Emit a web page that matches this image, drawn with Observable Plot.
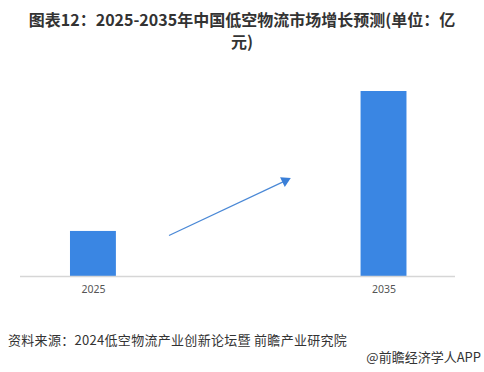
<!DOCTYPE html>
<html>
<head>
<meta charset="utf-8">
<script src="https://cdn.jsdelivr.net/npm/d3@7"></script>
<script src="https://cdn.jsdelivr.net/npm/@observablehq/plot@0.6"></script>
<style>
  body { margin: 0; background: #fff; font-family: "Noto Sans CJK SC", "Noto Sans", sans-serif; width: 484px; height: 372px; overflow: hidden; }
  #title { padding-top: 8px; height: 50px; box-sizing: border-box; text-align: center; font-weight: bold; font-size: 16px; line-height: 22px; color: #333; }
  #chart { height: 260px; }
  #source { margin-top: 22px; padding-left: 8px; font-size: 13px; line-height: 16px; color: #333; letter-spacing: 0.3px; }
  #brand { text-align: right; padding-right: 3px; font-size: 13px; line-height: 16px; color: #333; margin-top: 1px; }
</style>
</head>
<body>
<div id="title">图表12：2025-2035年中国低空物流市场增长预测(单位：亿<br>元)</div>
<div id="chart"></div>
<div id="source">资料来源：2024低空物流产业创新论坛暨 前瞻产业研究院</div>
<div id="brand">@前瞻经济学人APP</div>
<script>
const years = [2025, 2035];
const values = [487, 2000];
const arrowYears = [2027.6, 2031.7];
const arrowValues = [443, 1059];

const data = years.map((year, i) => ({year, value: values[i]}));
const halfWidth = 0.79;

const chart = Plot.plot({
  width: 484,
  height: 260,
  marginLeft: 20,
  marginRight: 29,
  marginTop: 20,
  marginBottom: 34,
  style: {fontFamily: "'Noto Sans', sans-serif", fontSize: "10.5px", color: "#555"},
  x: {domain: [2022.49, 2037.46], ticks: years, tickFormat: d => String(d), tickSize: 0, tickPadding: 9, label: null},
  y: {domain: [0, 2227], axis: null},
  marks: [
    Plot.rectY(data, {x1: d => d.year - halfWidth, x2: d => d.year + halfWidth, y: "value", fill: "#3a86e3"}),
    Plot.ruleY([0], {stroke: "#d6d6d6", strokeWidth: 1.5}),
    Plot.link([0], {x1: () => arrowYears[0], y1: () => arrowValues[0], x2: () => arrowYears[1] - 0.12, y2: () => arrowValues[1] - 28, stroke: "#4a88d6", strokeWidth: 1.2}),
    Plot.dot([0], {x: () => arrowYears[1] - 0.1, y: () => arrowValues[1] - 24, symbol: "triangle", r: 4, fill: "#3a7fd8", stroke: "none", rotate: 64})
  ]
});
document.getElementById("chart").appendChild(chart);
</script>
</body>
</html>
